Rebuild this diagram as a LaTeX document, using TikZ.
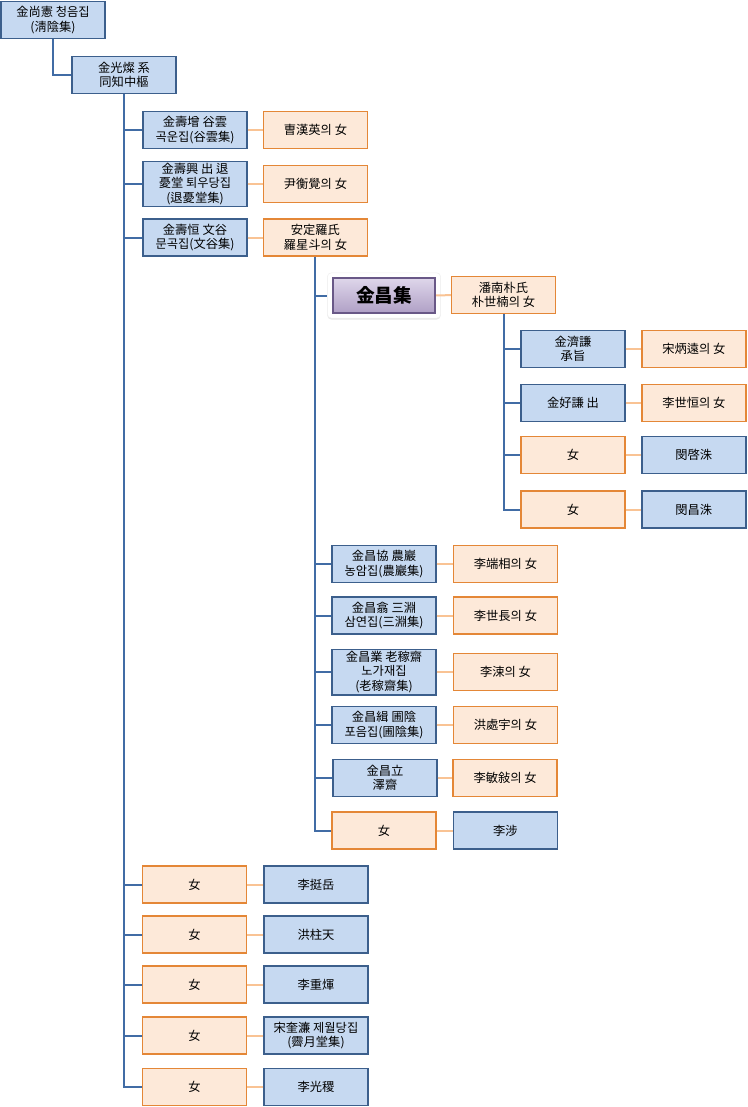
\documentclass[tikz,border=0pt]{standalone}
\usepackage{fontspec}
\setmainfont{Noto Sans CJK KR}
\usepackage{xcolor}
\usepackage{tikz}
\usetikzlibrary{positioning,shadows}

\definecolor{maleFill}{RGB}{198,217,241}
\definecolor{maleLine}{RGB}{60,95,140}
\definecolor{femFill}{RGB}{253,233,217}
\definecolor{femLine}{RGB}{228,135,55}
\definecolor{trunkCol}{RGB}{65,108,165}
\definecolor{tieCol}{RGB}{249,195,148}
\definecolor{hlTop}{RGB}{222,214,234}
\definecolor{hlBot}{RGB}{176,160,198}
\definecolor{hlLine}{RGB}{105,88,135}

\begin{document}
\begin{tikzpicture}[x=0.75pt,y=-0.75pt,
    male/.style={draw=maleLine,fill=maleFill,line width=1.1pt,align=center,
      minimum width=78pt,minimum height=27.75pt,inner ysep=1.5pt,
      font=\fontsize{9.2pt}{10.8pt}\selectfont},
    fem/.style={male,draw=femLine,fill=femFill},
    hl/.style={draw=hlLine,line width=1.3pt,top color=hlTop,bottom color=hlBot,
      minimum width=77pt,minimum height=26pt,font=\fontsize{14pt}{16pt}\selectfont\bfseries},
    glow/.style={fill=white,draw=black!6,rounded corners=3pt,minimum width=85pt,
      minimum height=34pt,drop shadow={opacity=.2,shadow xshift=0pt,shadow yshift=-1pt}},
    trunk/.style={draw=trunkCol,line width=1.5pt},
    tie/.style={draw=tieCol,line width=1.5pt}
  ]
    \useasboundingbox (0,0) rectangle (747,1107);
    % first two generations
    \node[male] (root) at (53,20) {金尚憲 청음집\\(淸陰集)};
    \node[male] (son) at (124,75) {金光燦 系\\同知中樞};
    % sons of 金光燦
    \node[male] (c1) at (195,130) {金壽增 谷雲\\곡운집(谷雲集)};
    \node[fem,right=11.25pt of c1] (c1w) {曺漢英의 女};
    \node[male] (c2) at (195,184) {金壽興 出 退\\憂堂 퇴우당집\\(退憂堂集)};
    \node[fem,right=11.25pt of c2] (c2w) {尹衡覺의 女};
    \node[male] (c3) at (195,237.5) {金壽恒 文谷\\문곡집(文谷集)};
    \node[fem,right=11.25pt of c3] (c3w) {安定羅氏\\羅星斗의 女};
    % 金昌集 and his line
    \node[glow] (kcjglow) at (384,295.5) {};
    \node[hl] (kcj) at (384,295.5) {金昌集};
    \node[fem] (kw) at (503.5,295) {潘南朴氏\\朴世楠의 女};
    \node[male] (g1) at (573,349) {金濟謙\\承旨};
    \node[fem,right=11.5pt of g1] (g1w) {宋炳遠의 女};
    \node[male] (g2) at (573,403) {金好謙 出};
    \node[fem,right=11.5pt of g2] (g2w) {李世恒의 女};
    \node[fem] (g3) at (573,455) {女};
    \node[male,right=11.5pt of g3] (g3h) {閔啓洙};
    \node[fem] (g4) at (573,509.5) {女};
    \node[male,right=11.5pt of g4] (g4h) {閔昌洙};
    % brothers of 金昌集
    \node[male] (k1) at (384,564) {金昌協 農巖\\농암집(農巖集)};
    \node[fem,right=12pt of k1] (k1w) {李端相의 女};
    \node[male] (k2) at (384,615.5) {金昌翕 三淵\\삼연집(三淵集)};
    \node[fem,right=12pt of k2] (k2w) {李世長의 女};
    \node[male] (k3) at (384,672) {金昌業 老稼齋\\노가재집\\(老稼齋集)};
    \node[fem,right=12pt of k3] (k3w) {李涑의 女};
    \node[male] (k4) at (384,725) {金昌緝 圃陰\\포음집(圃陰集)};
    \node[fem,right=12pt of k4] (k4w) {洪處宇의 女};
    \node[male] (k5) at (385,778) {金昌立\\澤齋};
    \node[fem,right=11pt of k5] (k5w) {李敏敍의 女};
    \node[fem] (k6) at (384,830.5) {女};
    \node[male,right=12pt of k6] (k6h) {李涉};
    % daughters of 金光燦
    \node[fem] (d1) at (194.5,884.5) {女};
    \node[male,right=12pt of d1] (d1h) {李挺岳};
    \node[fem] (d2) at (194.5,934.5) {女};
    \node[male,right=12pt of d2] (d2h) {洪柱天};
    \node[fem] (d3) at (194.5,984.5) {女};
    \node[male,right=12pt of d3] (d3h) {李重煇};
    \node[fem] (d4) at (194.5,1035.5) {女};
    \node[male,right=12pt of d4] (d4h) {宋奎濂 제월당집\\(霽月堂集)};
    \node[fem] (d5) at (194.5,1087) {女};
    \node[male,right=12pt of d5] (d5h) {李光稷};
    % descent lines
    \draw[trunk] (root.south) |- (son.west);
    \draw[trunk] (son.south) |- (d5.west);
    \draw[trunk] (son.south |- c1.west) -- (c1.west);
    \draw[trunk] (son.south |- c2.west) -- (c2.west);
    \draw[trunk] (son.south |- c3.west) -- (c3.west);
    \draw[trunk] (son.south |- d1.west) -- (d1.west);
    \draw[trunk] (son.south |- d2.west) -- (d2.west);
    \draw[trunk] (son.south |- d3.west) -- (d3.west);
    \draw[trunk] (son.south |- d4.west) -- (d4.west);
    \draw[trunk] (c3w.south) |- (k6.west);
    \draw[trunk] (c3w.south |- kcj.west) -- (kcjglow.west);
    \draw[trunk] (c3w.south |- k1.west) -- (k1.west);
    \draw[trunk] (c3w.south |- k2.west) -- (k2.west);
    \draw[trunk] (c3w.south |- k3.west) -- (k3.west);
    \draw[trunk] (c3w.south |- k4.west) -- (k4.west);
    \draw[trunk] (c3w.south |- k5.west) -- (k5.west);
    \draw[trunk] (kw.south) |- (g4.west);
    \draw[trunk] (kw.south |- g1.west) -- (g1.west);
    \draw[trunk] (kw.south |- g2.west) -- (g2.west);
    \draw[trunk] (kw.south |- g3.west) -- (g3.west);
    % marriage ties
    \draw[tie] (c1) -- (c1w);
    \draw[tie] (c2) -- (c2w);
    \draw[tie] (c3) -- (c3w);
    \draw[tie] (kcj) -- (kw);
    \draw[tie] (g1) -- (g1w);
    \draw[tie] (g2) -- (g2w);
    \draw[tie] (g3) -- (g3h);
    \draw[tie] (g4) -- (g4h);
    \draw[tie] (k1) -- (k1w);
    \draw[tie] (k2) -- (k2w);
    \draw[tie] (k3) -- (k3w);
    \draw[tie] (k4) -- (k4w);
    \draw[tie] (k5) -- (k5w);
    \draw[tie] (k6) -- (k6h);
    \draw[tie] (d1) -- (d1h);
    \draw[tie] (d2) -- (d2h);
    \draw[tie] (d3) -- (d3h);
    \draw[tie] (d4) -- (d4h);
    \draw[tie] (d5) -- (d5h);
\end{tikzpicture}
\end{document}
